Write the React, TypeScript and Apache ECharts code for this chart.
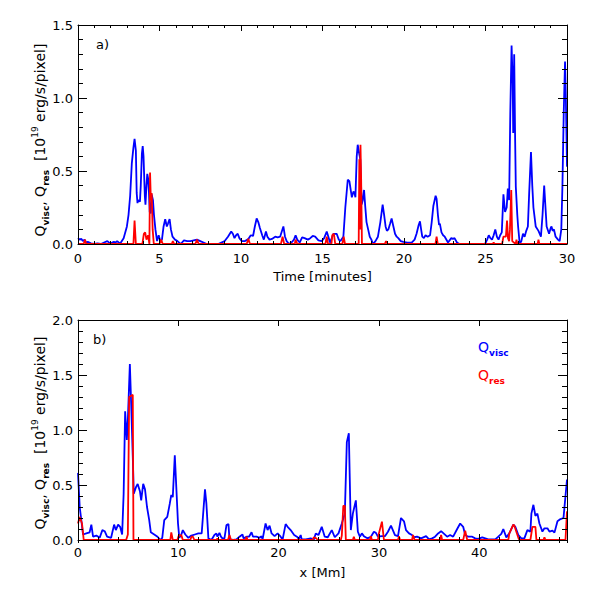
import React, { useEffect, useRef } from "react";
import * as echarts from "echarts";

// ---- Panel a): time series ----
const timeViscA = [0.0,0.1,0.2,0.3,0.4,0.5,0.6,0.8,1.0,1.2,1.4,1.6,1.8,1.9,2.0,2.2,2.3,2.4,2.5,2.6,2.8,3.0,3.1,3.2,3.3,3.4,3.47,3.55,3.6,3.65,3.7,3.8,3.85,3.92,3.97,4.02,4.1,4.14,4.2,4.25,4.3,4.35,4.4,4.46,4.52,4.6,4.66,4.75,4.85,4.95,5.05,5.15,5.25,5.35,5.45,5.52,5.62,5.7,5.8,5.95,6.1,6.3,6.5,6.7,6.9,7.1,7.3,7.5,7.7,7.9,8.2,8.6,9.0,9.2,9.4,9.5,9.6,9.7,9.8,9.9,10.05,10.25,10.45,10.6,10.74,10.85,10.96,11.06,11.16,11.3,11.4,11.53,11.62,11.75,11.9,12.1,12.25,12.4,12.6,12.7,12.8,12.95,13.1,13.25,13.35,13.45,13.6,13.75,13.9,14.1,14.25,14.4,14.55,14.75,14.95,15.1,15.26,15.36,15.46,15.57,15.67,15.87,16.0,16.1,16.28,16.4,16.55,16.65,16.8,16.9,16.96,17.02,17.1,17.16,17.25,17.32,17.4,17.47,17.55,17.62,17.7,17.8,17.9,18.0,18.1,18.25,18.4,18.55,18.69,18.78,18.87,18.95,19.04,19.15,19.24,19.35,19.45,19.55,19.65,19.8,19.96,20.2,20.47,20.65,20.77,20.9,20.98,21.05,21.12,21.22,21.32,21.45,21.6,21.7,21.8,21.94,22.0,22.08,22.15,22.2,22.3,22.4,22.5,22.7,22.9,23.0,23.1,23.25,23.4,24.0,24.5,24.97,25.1,25.2,25.3,25.4,25.5,25.6,25.7,25.8,25.9,26.0,26.1,26.2,26.3,26.37,26.45,26.52,26.6,26.67,26.7,26.76,26.82,26.86,26.95,27.0,27.1,27.2,27.3,27.4,27.5,27.6,27.68,27.79,27.87,27.94,28.08,28.25,28.4,28.5,28.6,28.68,28.75,28.9,29.0,29.05,29.12,29.2,29.3,29.45,29.55,29.65,29.72,29.8,29.88,29.93,30.0];
const qViscA = [0.04,0.03,0.035,0.02,0.03,0.01,0.015,0.005,0.0,0.005,0.0,0.01,0.02,0.01,0.005,0.015,0.01,0.02,0.01,0.005,0.04,0.12,0.2,0.33,0.55,0.66,0.72,0.64,0.35,0.28,0.3,0.29,0.4,0.62,0.67,0.6,0.33,0.27,0.4,0.48,0.45,0.36,0.22,0.21,0.34,0.3,0.2,0.1,0.02,0.06,0.02,0.03,0.12,0.17,0.12,0.14,0.17,0.1,0.05,0.03,0.02,0.0,0.025,0.02,0.02,0.025,0.03,0.02,0.01,0.0,0.0,0.0,0.02,0.05,0.085,0.07,0.04,0.06,0.07,0.04,0.02,0.02,0.035,0.06,0.055,0.12,0.175,0.15,0.11,0.06,0.03,0.085,0.05,0.03,0.035,0.05,0.045,0.05,0.12,0.05,0.02,0.0,0.01,0.03,0.06,0.03,0.01,0.045,0.04,0.03,0.04,0.055,0.05,0.025,0.02,0.04,0.085,0.05,0.01,0.04,0.07,0.07,0.03,0.02,0.05,0.25,0.44,0.43,0.32,0.36,0.35,0.32,0.6,0.68,0.62,0.58,0.27,0.3,0.37,0.26,0.15,0.1,0.05,0.03,0.0,0.02,0.05,0.15,0.27,0.2,0.12,0.09,0.1,0.14,0.175,0.12,0.07,0.05,0.04,0.02,0.015,0.01,0.01,0.03,0.07,0.13,0.155,0.1,0.05,0.04,0.06,0.05,0.06,0.15,0.26,0.33,0.31,0.2,0.13,0.14,0.08,0.06,0.05,0.01,0.04,0.035,0.04,0.01,0.0,0.0,0.0,0.0,0.03,0.06,0.04,0.03,0.06,0.1,0.05,0.03,0.06,0.08,0.34,0.22,0.25,0.38,0.3,0.89,1.36,1.1,0.76,1.3,0.7,0.39,0.2,0.12,0.0,0.02,0.07,0.05,0.09,0.12,0.35,0.63,0.4,0.25,0.12,0.09,0.05,0.2,0.4,0.25,0.12,0.07,0.11,0.12,0.09,0.1,0.05,0.03,0.02,0.1,0.4,0.9,1.25,1.0,0.53];

const timeResA = [0.0,0.35,0.43,0.5,3.4,3.47,3.55,3.95,4.04,4.12,4.2,4.3,4.38,4.42,4.47,4.52,4.58,4.65,5.0,5.1,5.2,5.75,5.82,5.9,7.2,7.3,7.4,10.35,10.45,10.55,12.45,12.55,12.65,13.3,13.35,13.45,15.18,15.26,15.34,15.55,15.6,15.7,15.78,16.22,16.3,16.38,17.22,17.26,17.3,17.33,17.37,17.42,18.82,18.9,18.98,21.93,22.0,22.07,25.45,25.5,25.55,26.02,26.1,26.25,26.32,26.38,26.45,26.5,26.58,26.64,26.85,26.9,26.95,28.2,28.25,28.3,30.0];
const qResA = [0.0,0.0,0.03,0.0,0.0,0.16,0.0,0.0,0.07,0.08,0.03,0.06,0.0,0.49,0.3,0.35,0.1,0.0,0.0,0.03,0.0,0.0,0.02,0.0,0.0,0.03,0.0,0.0,0.035,0.0,0.0,0.05,0.0,0.0,0.03,0.0,0.0,0.05,0.0,0.0,0.06,0.07,0.0,0.0,0.05,0.0,0.0,0.58,0.1,0.68,0.45,0.0,0.0,0.02,0.0,0.0,0.05,0.0,0.0,0.01,0.0,0.0,0.05,0.05,0.16,0.04,0.02,0.1,0.37,0.02,0.0,0.03,0.0,0.0,0.03,0.0,0.0];

// ---- Panel b): spatial profile ----
const posViscB = [0,0.17,0.33,0.5,0.83,1.16,1.33,1.5,1.83,2.16,2.43,2.66,2.9,3.3,3.6,3.77,4.0,4.2,4.4,4.55,4.7,4.87,4.97,5.17,5.3,5.46,5.56,5.78,5.95,6.18,6.3,6.5,6.68,6.88,7.1,7.26,7.6,7.93,8.2,8.4,8.6,8.9,9.15,9.3,9.45,9.65,9.8,9.97,10.1,10.3,10.45,10.7,11.0,11.3,11.65,12.0,12.33,12.66,12.8,13.0,13.3,13.6,13.8,13.9,14.1,14.25,14.4,14.6,14.8,15.0,15.1,15.5,15.8,16.1,16.4,16.5,16.8,17.05,17.3,17.45,17.8,18.1,18.3,18.4,18.7,18.9,19.1,19.3,19.6,19.9,20.2,20.4,20.7,20.9,21.2,21.55,21.9,22.0,22.2,22.3,22.7,23.2,23.5,23.7,23.97,24.3,24.6,24.9,25.3,25.6,25.97,26.3,26.6,26.8,27.0,27.2,27.4,27.7,27.9,28.1,28.3,28.5,28.85,29.2,29.5,29.7,29.9,30.3,30.6,30.9,31.2,31.6,31.9,32.2,32.5,32.7,33.0,33.3,33.5,33.8,34.2,34.7,35.0,35.3,35.6,35.9,36.2,36.5,36.8,37.1,37.4,37.8,38.1,38.4,38.6,38.9,39.3,39.6,39.9,40.3,40.6,40.9,41.3,41.6,41.9,42.2,42.4,42.7,43.0,43.4,43.6,43.9,44.2,44.5,44.8,45.1,45.2,45.4,45.6,45.8,46.0,46.3,46.5,46.8,47.0,47.3,47.5,47.8,48.1,48.4,48.75];
const qViscB = [0.61,0.3,0.18,0.05,0.06,0.07,0.14,0.03,0.04,0.02,0.09,0.08,0.03,0.02,0.14,0.09,0.14,0.12,0.05,0.42,1.17,0.91,1.09,1.6,1.24,0.76,0.42,0.48,0.51,0.44,0.36,0.51,0.46,0.3,0.18,0.07,0.05,0.03,0.0,0.02,0.18,0.21,0.33,0.41,0.39,0.77,0.48,0.15,0.02,0.05,0.09,0.05,0.02,0.04,0.05,0.06,0.06,0.46,0.33,0.015,0.0,0.045,0.06,0.03,0.065,0.03,0.015,0.015,0.136,0.145,0.005,0.0,0.005,0.03,0.05,0.015,0.03,0.03,0.07,0.03,0.03,0.02,0.035,0.005,0.15,0.09,0.13,0.06,0.035,0.06,0.03,0.005,0.145,0.12,0.09,0.045,0.025,0.005,0.045,0.005,0.005,0.015,0.0,0.06,0.045,0.12,0.03,0.025,0.09,0.025,0.06,0.15,0.24,0.89,0.97,0.09,0.24,0.36,0.075,0.03,0.06,0.035,0.015,0.03,0.075,0.065,0.03,0.035,0.035,0.075,0.13,0.045,0.035,0.2,0.17,0.09,0.06,0.045,0.025,0.03,0.015,0.035,0.005,0.015,0.03,0.06,0.08,0.055,0.03,0.045,0.03,0.1,0.15,0.12,0.045,0.03,0.03,0.015,0.01,0.024,0.015,0.006,0.006,0.006,0.03,0.055,0.1,0.024,0.06,0.14,0.12,0.045,0.015,0.015,0.09,0.076,0.24,0.32,0.22,0.24,0.15,0.076,0.106,0.106,0.076,0.085,0.067,0.17,0.19,0.2,0.55];

const posResB = [0,0.17,0.4,0.57,4.8,4.97,5.1,5.46,5.53,9.2,9.3,9.45,9.9,10.05,10.3,10.45,11.2,11.3,11.45,11.6,13.8,13.9,14.0,14.95,15.1,15.25,16.7,16.8,16.9,23.4,23.5,23.75,23.9,26.2,26.3,26.45,26.6,26.7,27.4,27.5,27.6,29.1,29.2,29.3,29.9,30.0,30.3,30.5,31.9,32.0,32.1,33.3,33.4,33.55,36.1,36.2,36.3,38.4,38.6,38.8,42.9,43.0,43.4,43.5,43.9,44.0,45.1,45.3,45.6,45.7,46.4,46.5,46.6,48.6,48.75];
const qResB = [0.15,0.21,0.15,0.0,0.0,0.05,1.3,1.32,0.0,0.0,0.07,0.0,0.0,0.04,0.045,0.0,0.0,0.03,0.03,0.0,0.0,0.015,0.0,0.0,0.045,0.0,0.0,0.03,0.0,0.0,0.025,0.015,0.0,0.0,0.04,0.31,0.31,0.0,0.0,0.03,0.0,0.0,0.035,0.0,0.0,0.06,0.167,0.0,0.0,0.035,0.0,0.0,0.045,0.0,0.0,0.045,0.0,0.0,0.085,0.0,0.0,0.06,0.14,0.13,0.02,0.0,0.0,0.12,0.12,0.0,0.0,0.025,0.0,0.0,0.26];

const xTicksA = { min: 0, max: 30, interval: 5 };
const xTicksB = { min: 0, max: 48.75, interval: 10, minor: 2 };
const yTicksA = { min: 0, max: 1.5, interval: 0.5 };
const yTicksB = { min: 0, max: 2.0, interval: 0.5 };

const FONT = "DejaVu Sans";
const BLUE = "#0000ff";
const RED = "#ff0000";

const pairs = (xs: number[], ys: number[]) => xs.map((x, i) => [x, ys[i]]);

const yTitle =
  "{q|Q}{s|visc}{q|, Q}{s|res}{q|  [10}{p|19}{q| erg/s/pixel]}";
const titleRich = {
  q: { fontSize: 14, fontFamily: FONT, lineHeight: 20, verticalAlign: "middle", fill: "#000" },
  s: { fontSize: 9, fontFamily: FONT, fontWeight: "bold", lineHeight: 11, verticalAlign: "bottom", fill: "#000" },
  p: { fontSize: 9, fontFamily: FONT, lineHeight: 11, verticalAlign: "top", fill: "#000" },
};

function App() {
  const ref = useRef<HTMLDivElement>(null);
  useEffect(() => {
    if (!ref.current) return;
    const chart = echarts.init(ref.current, null, { renderer: "svg" });
    const black = { color: "#000", width: 1 };
    const baseX = (grid: number, pos: string, t: any, extra: any = {}) => ({
      type: "value",
      gridIndex: grid,
      position: pos,
      min: t.min,
      max: t.max,
      interval: t.interval,
      z: 5,
      axisLine: { show: true, onZero: false, lineStyle: black },
      axisTick: { show: true, inside: true, length: 6, lineStyle: black },
      axisLabel: { show: false },
      splitLine: { show: false },
      ...extra,
    });
    const baseY = (grid: number, pos: string, t: any, extra: any = {}) => ({
      type: "value",
      gridIndex: grid,
      position: pos,
      min: t.min,
      max: t.max,
      interval: t.interval,
      z: 5,
      axisLine: { show: true, onZero: false, lineStyle: black },
      axisTick: { show: true, inside: true, length: 9, lineStyle: black },
      minorTick: { show: true, splitNumber: 5, length: 5, lineStyle: black },
      axisLabel: { show: false },
      splitLine: { show: false },
      minorSplitLine: { show: false },
      ...extra,
    });
    const xLabel = (margin: number, showMax: boolean) => ({
      show: true,
      color: "#000",
      fontSize: 13,
      fontFamily: FONT,
      margin,
      showMaxLabel: showMax,
      formatter: (v: number) => (Math.abs(v % 5) < 1e-9 ? String(v) : ""),
    });
    const yLabel = {
      show: true,
      color: "#000",
      fontSize: 13,
      fontFamily: FONT,
      margin: 5,
      formatter: (v: number) => v.toFixed(1),
    };
    const nameStyle = { color: "#000", fontSize: 13, fontFamily: FONT };
    const minorAxisB = (pos: string) =>
      baseX(1, pos, { min: xTicksB.min, max: xTicksB.max, interval: xTicksB.minor }, {
        axisLine: { show: false },
        axisTick: { show: true, inside: true, length: 3, lineStyle: black },
      });
    const legendRich = (color: string) => ({
      q: { fontSize: 14, fontFamily: FONT, lineHeight: 20, verticalAlign: "middle", fill: color },
      s: { fontSize: 9, fontFamily: FONT, fontWeight: "bold", lineHeight: 11, verticalAlign: "bottom", fill: color },
    });

    chart.setOption({
      animation: false,
      backgroundColor: "#fff",
      grid: [
        { left: 78, top: 25, width: 489, height: 219, containLabel: false },
        { left: 78, top: 320, width: 489, height: 220, containLabel: false },
      ],
      xAxis: [
        baseX(0, "bottom", xTicksA, {
          axisTick: { show: true, inside: true, length: 6, lineStyle: black },
          minorTick: { show: true, splitNumber: 5, length: 3, lineStyle: black },
          minorSplitLine: { show: false },
          axisLabel: xLabel(8, true),
          name: "Time [minutes]",
          nameLocation: "middle",
          nameGap: 26,
          nameTextStyle: nameStyle,
        }),
        baseX(0, "top", xTicksA, {
          minorTick: { show: true, splitNumber: 5, length: 3, lineStyle: black },
          minorSplitLine: { show: false },
        }),
        baseX(1, "bottom", xTicksB, {
          axisLabel: xLabel(6, false),
          name: "x [Mm]",
          nameLocation: "middle",
          nameGap: 26,
          nameTextStyle: nameStyle,
        }),
        baseX(1, "top", xTicksB),
        minorAxisB("bottom"),
        minorAxisB("top"),
      ],
      yAxis: [
        baseY(0, "left", yTicksA, { axisLabel: yLabel }),
        baseY(0, "right", yTicksA),
        baseY(1, "left", yTicksB, { axisLabel: yLabel }),
        baseY(1, "right", yTicksB),
      ],
      series: [
        {
          type: "line", xAxisIndex: 0, yAxisIndex: 0, showSymbol: false, symbol: "none",
          data: pairs(timeViscA, qViscA), lineStyle: { color: BLUE, width: 1.8 }, itemStyle: { color: BLUE }, z: 2,
        },
        {
          type: "line", xAxisIndex: 0, yAxisIndex: 0, showSymbol: false, symbol: "none",
          data: pairs(timeResA, qResA), lineStyle: { color: RED, width: 1.8 }, itemStyle: { color: RED }, z: 3,
        },
        {
          type: "line", xAxisIndex: 2, yAxisIndex: 2, showSymbol: false, symbol: "none",
          data: pairs(posViscB, qViscB), lineStyle: { color: BLUE, width: 1.8 }, itemStyle: { color: BLUE }, z: 2,
        },
        {
          type: "line", xAxisIndex: 2, yAxisIndex: 2, showSymbol: false, symbol: "none",
          data: pairs(posResB, qResB), lineStyle: { color: RED, width: 1.8 }, itemStyle: { color: RED }, z: 3,
        },
      ],
      graphic: [
        {
          type: "text", x: 40, y: 140, rotation: Math.PI / 2,
          style: { text: yTitle, rich: titleRich, align: "center", verticalAlign: "middle" },
        },
        {
          type: "text", x: 40, y: 433, rotation: Math.PI / 2,
          style: { text: yTitle, rich: titleRich, align: "center", verticalAlign: "middle" },
        },
        {
          type: "text", x: 96, y: 44,
          style: { text: "a)", fontSize: 13, fontFamily: FONT, fill: "#000", align: "left", verticalAlign: "middle" },
        },
        {
          type: "text", x: 93, y: 339,
          style: { text: "b)", fontSize: 13, fontFamily: FONT, fill: "#000", align: "left", verticalAlign: "middle" },
        },
        {
          type: "text", x: 478, y: 347,
          style: { text: "{q|Q}{s|visc}", align: "left", verticalAlign: "middle", rich: legendRich(BLUE) },
        },
        {
          type: "text", x: 478, y: 375,
          style: { text: "{q|Q}{s|res}", align: "left", verticalAlign: "middle", rich: legendRich(RED) },
        },
      ],
    });
    return () => chart.dispose();
  }, []);
  return (
    <div
      ref={ref}
      style={{ position: "absolute", left: 0, top: 0, width: 591, height: 591, background: "#fff" }}
    />
  );
}

export default App;
